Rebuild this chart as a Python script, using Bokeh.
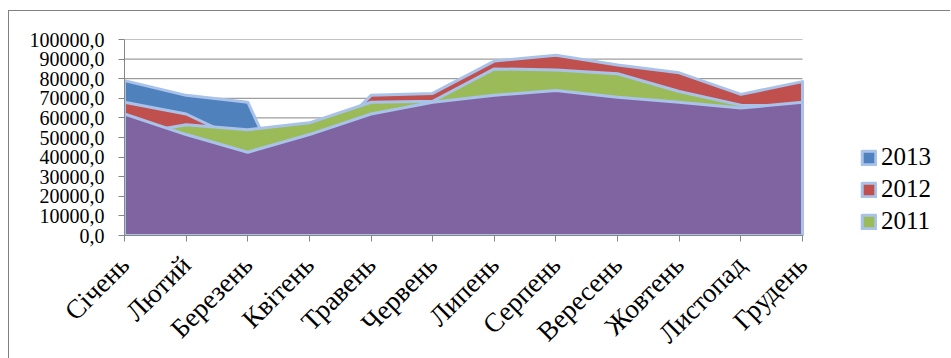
from math import pi

from bokeh.embed import file_html
from bokeh.models import FixedTicker, Legend, LegendItem, Range1d
from bokeh.plotting import figure
from bokeh.resources import INLINE

# Months (Ukrainian) on the category axis
months = ["Січень", "Лютий", "Березень", "Квітень", "Травень", "Червень",
          "Липень", "Серпень", "Вересень", "Жовтень", "Листопад", "Грудень"]

# Monthly values per year; 2013 is only known for the first quarter
v2013 = [79000, 71500, 68000, None, None, None, None, None, None, None, None, None]
v2012 = [68000, 62000, 47000, 40000, 71500, 72500, 89000, 92000, 87000, 83000, 72000, 78500]
v2011 = [51000, 56500, 54000, 57500, 68000, 68500, 85000, 84500, 82500, 73500, 66500, 66000]
v2010 = [62000, 51500, 42500, 51500, 62000, 68000, 71500, 74000, 70500, 68000, 65000, 68000]

series_names = ["2013", "2012", "2011", "2010"]
legend_names = ["2013", "2012", "2011"]

y_ticks = [0, 10000, 20000, 30000, 40000, 50000, 60000, 70000, 80000, 90000, 100000]
y_tick_labels = ["0,0", "10000,0", "20000,0", "30000,0", "40000,0", "50000,0",
                 "60000,0", "70000,0", "80000,0", "90000,0", "100000,0"]

fills = {"2013": "#4F81BD", "2012": "#C0504D", "2011": "#9BBB59", "2010": "#8064A2"}
edge = "#A9C2EA"
axis_grey = "#868686"
frame_grey = "#808080"
serif = "Liberation Serif"

x_first, x_last = 0, len(months) - 1
# Month spacing is 678 px / 11; the drawing area continues to the right edge
# so that the legend can sit beside the series.
px_per_month = 678 / 11
frame_w = 827
x_end = frame_w / px_per_month

p = figure(frame_width=frame_w, frame_height=196, title=None,
           output_backend="svg", toolbar_location=None,
           x_range=Range1d(x_first, x_end), y_range=Range1d(0, 100000),
           min_border_left=115, min_border_right=0,
           min_border_top=28, min_border_bottom=123,
           margin=(11, 0, 0, 9),
           styles={"box-shadow": f"-1px -1px 0 0 {frame_grey}"})
p.outline_line_color = None
p.background_fill_color = "white"
p.border_fill_color = "white"

# Horizontal grid lines spanning only the month axis
p.xgrid.visible = False
p.ygrid.visible = False
p.segment(x0=[x_first] * len(y_ticks), x1=[x_last] * len(y_ticks),
          y0=y_ticks, y1=y_ticks, line_color=axis_grey, line_width=1)

# Overlapping areas: earliest-listed series at the back, 2010 in front
xs = list(range(len(months)))
renderers = {}
for name, vals in zip(series_names, [v2013, v2012, v2011, v2010]):
    ys = [0 if v is None else v for v in vals]
    renderers[name] = p.patch(xs + [xs[-1], xs[0]], ys + [0, 0],
                              fill_color=fills[name], line_color=edge,
                              line_width=3, line_join="round")

# Axes
p.yaxis.ticker = FixedTicker(ticks=y_ticks)
p.yaxis.major_label_overrides = dict(zip(y_ticks, y_tick_labels))
p.yaxis.major_label_text_font = serif
p.yaxis.major_label_text_font_size = "20px"
p.yaxis.major_label_text_color = "black"
p.yaxis.major_label_standoff = 14
p.yaxis.major_tick_out = 6
p.yaxis.major_tick_in = 0
p.yaxis.minor_tick_line_color = None
p.yaxis.axis_line_color = axis_grey
p.yaxis.major_tick_line_color = axis_grey

p.xaxis.bounds = (x_first, x_last)
p.xaxis.ticker = FixedTicker(ticks=xs)
p.xaxis.major_label_overrides = dict(zip(xs, months))
p.xaxis.major_label_orientation = pi / 4
p.xaxis.major_label_text_font = serif
p.xaxis.major_label_text_font_size = "27px"
p.xaxis.major_label_text_color = "black"
p.xaxis.major_label_standoff = 19
p.xaxis.major_tick_out = 6
p.xaxis.major_tick_in = 0
p.xaxis.minor_tick_line_color = None
p.xaxis.axis_line_color = axis_grey
p.xaxis.major_tick_line_color = axis_grey

# Legend beside the series, level with the lower part of the plot
legend = Legend(items=[LegendItem(label=n, renderers=[renderers[n]]) for n in legend_names],
                location=(736, 0), orientation="vertical",
                background_fill_alpha=0, border_line_color=None,
                padding=0, margin=0, spacing=4,
                glyph_width=17, glyph_height=17, label_standoff=4,
                label_text_font=serif, label_text_font_size="25px",
                label_text_color="black")
p.add_layout(legend)

open("out.html", "w").write(file_html(p, INLINE))
